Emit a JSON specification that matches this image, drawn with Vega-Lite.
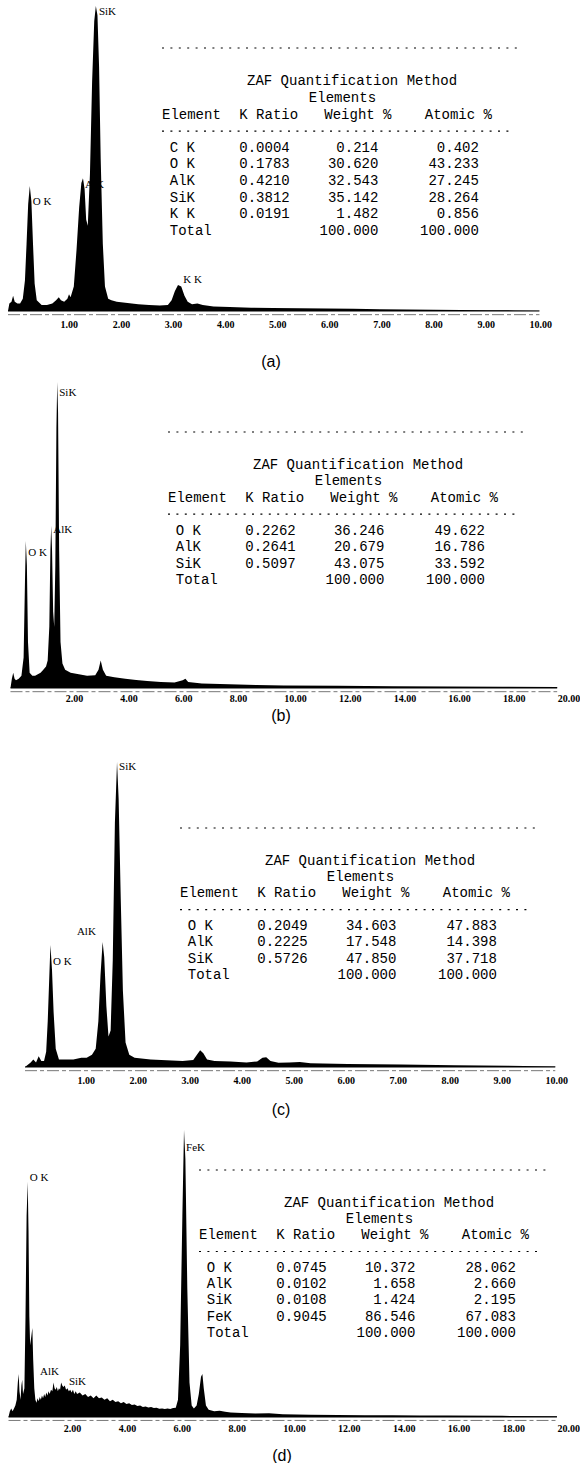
{
  "$schema": "https://vega.github.io/schema/vega-lite/v6.json",
  "padding": 0,
  "background": "white",
  "bounds": "flush",
  "spacing": 0,
  "config": {
    "view": {"stroke": null},
    "axis": {"labelColor": "black", "titleColor": "black", "grid": false, "domain": false, "ticks": false, "tickSize": 0,
      "labelFont": "Liberation Serif", "labelFontSize": 10, "labelFontWeight": "bold", "labelAlign": "left", "labelFlush": false, "labelOverlap": false,
      "titleFont": "Liberation Sans", "titleFontSize": 16, "titleFontWeight": "normal"}
  },
  "datasets": {
    "spec_a": [
      {"e":0,"c":0},{"e":0.026,"c":2.5},{"e":0.067,"c":3},{"e":0.098,"c":5},{"e":0.129,"c":3},{"e":0.181,"c":2.5},{"e":0.232,"c":2.5},{"e":0.284,"c":4},{"e":0.325,"c":10},{"e":0.356,"c":22},{"e":0.387,"c":35},{"e":0.418,"c":41},{"e":0.449,"c":36},{"e":0.48,"c":22},{"e":0.511,"c":9},{"e":0.552,"c":3.5},{"e":0.645,"c":2},{"e":0.748,"c":2},{"e":0.851,"c":2.5},{"e":0.923,"c":3.5},{"e":0.975,"c":4.5},{"e":1.016,"c":3.5},{"e":1.078,"c":3},{"e":1.14,"c":4},{"e":1.171,"c":5.5},{"e":1.201,"c":4.5},{"e":1.263,"c":8},{"e":1.315,"c":20},{"e":1.366,"c":34},{"e":1.408,"c":42},{"e":1.439,"c":43.5},{"e":1.47,"c":40},{"e":1.5,"c":30},{"e":1.531,"c":28},{"e":1.573,"c":45},{"e":1.614,"c":75},{"e":1.655,"c":95},{"e":1.686,"c":100},{"e":1.717,"c":97},{"e":1.748,"c":80},{"e":1.779,"c":50},{"e":1.82,"c":22},{"e":1.861,"c":8},{"e":1.923,"c":4},{"e":1.985,"c":3.5},{"e":2.088,"c":3},{"e":2.294,"c":2.6},{"e":2.5,"c":2.2},{"e":2.707,"c":2},{"e":2.913,"c":1.8},{"e":3.068,"c":2},{"e":3.14,"c":3.5},{"e":3.202,"c":6.5},{"e":3.263,"c":8.5},{"e":3.325,"c":8},{"e":3.387,"c":5},{"e":3.449,"c":3},{"e":3.532,"c":2.2},{"e":3.635,"c":2.5},{"e":3.738,"c":2},{"e":3.944,"c":1.5},{"e":4.253,"c":1.3},{"e":4.666,"c":1.1},{"e":5.078,"c":1},{"e":5.593,"c":0.9},{"e":6.109,"c":0.8},{"e":6.624,"c":0.7},{"e":7.14,"c":0.6},{"e":7.655,"c":0.5},{"e":8.171,"c":0.4},{"e":8.687,"c":0.3},{"e":9.202,"c":0.25},{"e":9.718,"c":0.2},{"e":10.2,"c":0.1}
    ],
    "spec_b": [
      {"e":0,"c":0},{"e":0.05,"c":3},{"e":0.1,"c":5},{"e":0.15,"c":3},{"e":0.2,"c":2.5},{"e":0.3,"c":3},{"e":0.4,"c":4},{"e":0.48,"c":10},{"e":0.53,"c":35},{"e":0.56,"c":48},{"e":0.6,"c":40},{"e":0.64,"c":15},{"e":0.7,"c":5},{"e":0.8,"c":4},{"e":0.9,"c":4},{"e":1.0,"c":4.5},{"e":1.1,"c":5},{"e":1.2,"c":6},{"e":1.3,"c":7},{"e":1.36,"c":9},{"e":1.42,"c":20},{"e":1.46,"c":45},{"e":1.49,"c":53},{"e":1.52,"c":45},{"e":1.56,"c":25},{"e":1.6,"c":20},{"e":1.64,"c":40},{"e":1.68,"c":85},{"e":1.71,"c":100},{"e":1.74,"c":90},{"e":1.78,"c":45},{"e":1.83,"c":15},{"e":1.9,"c":8},{"e":2.0,"c":6},{"e":2.2,"c":5},{"e":2.5,"c":4.5},{"e":2.8,"c":4},{"e":3.1,"c":4.2},{"e":3.22,"c":6},{"e":3.3,"c":9},{"e":3.38,"c":6},{"e":3.5,"c":4},{"e":3.8,"c":3.5},{"e":4.2,"c":3},{"e":4.6,"c":2.6},{"e":5.0,"c":2.3},{"e":5.5,"c":2},{"e":6.0,"c":1.8},{"e":6.3,"c":2.5},{"e":6.4,"c":3},{"e":6.5,"c":2},{"e":7,"c":1.5},{"e":8,"c":1.2},{"e":9,"c":1},{"e":10,"c":0.8},{"e":12,"c":0.7},{"e":14,"c":0.6},{"e":16,"c":0.5},{"e":18,"c":0.4},{"e":20,"c":0.3}
    ],
    "spec_c": [
      {"e":0,"c":0},{"e":0.109,"c":1.5},{"e":0.16,"c":2.5},{"e":0.212,"c":1.5},{"e":0.263,"c":3.5},{"e":0.314,"c":2},{"e":0.366,"c":2},{"e":0.407,"c":5},{"e":0.437,"c":15},{"e":0.468,"c":30},{"e":0.489,"c":40},{"e":0.519,"c":32},{"e":0.55,"c":18},{"e":0.591,"c":6},{"e":0.653,"c":2.5},{"e":0.776,"c":2.5},{"e":0.929,"c":2.5},{"e":1.083,"c":3},{"e":1.186,"c":3},{"e":1.288,"c":4},{"e":1.36,"c":6},{"e":1.411,"c":15},{"e":1.452,"c":30},{"e":1.493,"c":41},{"e":1.524,"c":36},{"e":1.565,"c":20},{"e":1.606,"c":10},{"e":1.647,"c":12},{"e":1.688,"c":35},{"e":1.729,"c":80},{"e":1.77,"c":100},{"e":1.801,"c":88},{"e":1.842,"c":55},{"e":1.883,"c":25},{"e":1.934,"c":8},{"e":2.006,"c":4},{"e":2.108,"c":3},{"e":2.416,"c":2.5},{"e":2.723,"c":2.2},{"e":3.031,"c":2},{"e":3.236,"c":2.3},{"e":3.307,"c":4},{"e":3.369,"c":5.5},{"e":3.43,"c":4.5},{"e":3.502,"c":2.5},{"e":3.646,"c":2},{"e":3.953,"c":1.8},{"e":4.261,"c":1.5},{"e":4.466,"c":1.8},{"e":4.568,"c":3},{"e":4.64,"c":3.2},{"e":4.722,"c":2},{"e":4.876,"c":1.4},{"e":5.081,"c":1.5},{"e":5.286,"c":1.6},{"e":5.491,"c":1.2},{"e":6.208,"c":1},{"e":7.233,"c":0.8},{"e":8.258,"c":0.6},{"e":9.283,"c":0.4},{"e":10.2,"c":0.2}
    ],
    "spec_d": [
      {"e":0,"c":0},{"e":0.05,"c":2},{"e":0.1,"c":3},{"e":0.15,"c":2},{"e":0.2,"c":3},{"e":0.25,"c":4},{"e":0.3,"c":6},{"e":0.34,"c":12},{"e":0.37,"c":15},{"e":0.4,"c":9},{"e":0.44,"c":6},{"e":0.47,"c":11},{"e":0.5,"c":13},{"e":0.53,"c":8},{"e":0.58,"c":10},{"e":0.62,"c":35},{"e":0.66,"c":70},{"e":0.7,"c":82},{"e":0.73,"c":65},{"e":0.76,"c":35},{"e":0.79,"c":25},{"e":0.83,"c":28},{"e":0.87,"c":31},{"e":0.9,"c":20},{"e":0.94,"c":10},{"e":0.98,"c":6},{"e":1.02,"c":5},{"e":1.06,"c":6.5},{"e":1.1,"c":5.5},{"e":1.14,"c":7},{"e":1.18,"c":6},{"e":1.22,"c":7.5},{"e":1.26,"c":6.5},{"e":1.3,"c":8},{"e":1.34,"c":7},{"e":1.38,"c":8.5},{"e":1.42,"c":7.5},{"e":1.46,"c":9},{"e":1.5,"c":8},{"e":1.55,"c":9.5},{"e":1.6,"c":9},{"e":1.64,"c":12},{"e":1.68,"c":10},{"e":1.72,"c":9.5},{"e":1.76,"c":10.5},{"e":1.8,"c":9},{"e":1.84,"c":10},{"e":1.88,"c":9.5},{"e":1.92,"c":12},{"e":1.96,"c":11},{"e":2.0,"c":10.5},{"e":2.05,"c":11},{"e":2.1,"c":9.5},{"e":2.15,"c":10},{"e":2.2,"c":9},{"e":2.25,"c":9.5},{"e":2.3,"c":8.5},{"e":2.35,"c":9.5},{"e":2.4,"c":8},{"e":2.45,"c":9},{"e":2.5,"c":8},{"e":2.6,"c":8.5},{"e":2.7,"c":7.5},{"e":2.8,"c":8},{"e":2.9,"c":7},{"e":3.0,"c":7.5},{"e":3.1,"c":6.5},{"e":3.2,"c":7.5},{"e":3.3,"c":6.5},{"e":3.4,"c":6.8},{"e":3.5,"c":6},{"e":3.6,"c":6.5},{"e":3.7,"c":5.5},{"e":3.8,"c":6},{"e":3.9,"c":5.2},{"e":4.0,"c":5.5},{"e":4.1,"c":4.8},{"e":4.2,"c":5.2},{"e":4.3,"c":4.5},{"e":4.4,"c":4.8},{"e":4.5,"c":4.2},{"e":4.6,"c":4.4},{"e":4.7,"c":3.8},{"e":4.8,"c":4},{"e":4.9,"c":3.5},{"e":5.0,"c":3.7},{"e":5.1,"c":3.3},{"e":5.2,"c":3.5},{"e":5.3,"c":3.1},{"e":5.4,"c":3.2},{"e":5.5,"c":2.9},{"e":5.6,"c":3},{"e":5.7,"c":2.8},{"e":5.8,"c":3},{"e":5.9,"c":2.8},{"e":6.0,"c":3.1},{"e":6.1,"c":3.2},{"e":6.18,"c":6},{"e":6.26,"c":25},{"e":6.34,"c":70},{"e":6.4,"c":100},{"e":6.45,"c":90},{"e":6.52,"c":45},{"e":6.6,"c":12},{"e":6.68,"c":4},{"e":6.76,"c":3},{"e":6.86,"c":4},{"e":6.94,"c":8},{"e":7.02,"c":14},{"e":7.07,"c":15},{"e":7.12,"c":10},{"e":7.2,"c":4},{"e":7.3,"c":2.5},{"e":7.5,"c":2},{"e":7.7,"c":2.2},{"e":7.9,"c":1.8},{"e":8.1,"c":1.6},{"e":8.5,"c":1.4},{"e":9,"c":1.2},{"e":9.5,"c":1.3},{"e":10,"c":1},{"e":11,"c":0.8},{"e":12,"c":0.7},{"e":13,"c":0.6},{"e":14,"c":0.6},{"e":15,"c":0.5},{"e":16,"c":0.5},{"e":18,"c":0.4},{"e":20,"c":0.3}
    ],
    "lab_a": [{"e":1.707,"c":98,"t":"SiK"},{"e":1.439,"c":41.3,"t":"AlK"},{"e":0.438,"c":35.8,"t":"O K"},{"e":3.325,"c":10.2,"t":"K K"}],
    "lab_b": [{"e":1.71,"c":96.4,"t":"SiK"},{"e":1.49,"c":51.6,"t":"AlK"},{"e":0.58,"c":44.1,"t":"O K"}],
    "lab_c": [{"e":1.77,"c":98.4,"t":"SiK"},{"e":0.96,"c":44.3,"t":"AlK"},{"e":0.5,"c":34.4,"t":"O K"}],
    "lab_d": [{"e":6.4,"c":93.8,"t":"FeK"},{"e":0.7,"c":83.3,"t":"O K"},{"e":1.08,"c":15.7,"t":"AlK"},{"e":2.13,"c":12.2,"t":"SiK"}],
    "tab_a": [
      {"element":"C K","kratio":"0.0004","weight":"0.214","atomic":"0.402"},
      {"element":"O K","kratio":"0.1783","weight":"30.620","atomic":"43.233"},
      {"element":"AlK","kratio":"0.4210","weight":"32.543","atomic":"27.245"},
      {"element":"SiK","kratio":"0.3812","weight":"35.142","atomic":"28.264"},
      {"element":"K K","kratio":"0.0191","weight":"1.482","atomic":"0.856"},
      {"element":"Total","kratio":"","weight":"100.000","atomic":"100.000"}
    ],
    "tab_b": [
      {"element":"O K","kratio":"0.2262","weight":"36.246","atomic":"49.622"},
      {"element":"AlK","kratio":"0.2641","weight":"20.679","atomic":"16.786"},
      {"element":"SiK","kratio":"0.5097","weight":"43.075","atomic":"33.592"},
      {"element":"Total","kratio":"","weight":"100.000","atomic":"100.000"}
    ],
    "tab_c": [
      {"element":"O K","kratio":"0.2049","weight":"34.603","atomic":"47.883"},
      {"element":"AlK","kratio":"0.2225","weight":"17.548","atomic":"14.398"},
      {"element":"SiK","kratio":"0.5726","weight":"47.850","atomic":"37.718"},
      {"element":"Total","kratio":"","weight":"100.000","atomic":"100.000"}
    ],
    "tab_d": [
      {"element":"O K","kratio":"0.0745","weight":"10.372","atomic":"28.062"},
      {"element":"AlK","kratio":"0.0102","weight":"1.658","atomic":"2.660"},
      {"element":"SiK","kratio":"0.0108","weight":"1.424","atomic":"2.195"},
      {"element":"FeK","kratio":"0.9045","weight":"86.546","atomic":"67.083"},
      {"element":"Total","kratio":"","weight":"100.000","atomic":"100.000"}
    ]
  },
  "vconcat": [
    {
      "width": 541, "height": 311,
      "layer": [
        {"layer": [
          {"data": {"name": "spec_a"}, "mark": {"type": "area", "color": "black", "interpolate": "linear"},
           "encoding": {
             "x": {"field": "e", "type": "quantitative", "scale": {"domain": [-0.1536, 10.23], "nice": false, "zero": false},
                   "axis": {"values": [1,2,3,4,5,6,7,8,9,10], "format": ".2f", "title": "(a)", "labelPadding": 8, "titlePadding": 24}},
             "y": {"field": "c", "type": "quantitative", "scale": {"domain": [0, 102], "nice": false}, "axis": null}}},
          {"data": {"values": [{}]}, "mark": {"type": "rule", "color": "black", "strokeWidth": 1},
           "encoding": {"x": {"datum": 0, "type": "quantitative"}, "x2": {"datum": 10.2}, "y": {"datum": 0, "type": "quantitative"}}},
          {"data": {"values": [{}]}, "mark": {"type": "rule", "color": "#555", "strokeWidth": 0.8, "strokeDash": [12, 3, 4, 3]},
           "encoding": {"x": {"datum": 0, "type": "quantitative"}, "x2": {"datum": 10.2}, "y": {"datum": -1.2, "type": "quantitative"}}},
          {"data": {"name": "lab_a"}, "mark": {"type": "text", "align": "left", "baseline": "middle", "dx": 2, "font": "Liberation Serif", "fontSize": 11, "color": "black"},
           "encoding": {"x": {"field": "e", "type": "quantitative"}, "y": {"field": "c", "type": "quantitative"}, "text": {"field": "t"}}}
        ]},
        {"layer": [
          {"data": {"values": [{}]}, "mark": {"type": "rule", "strokeDash": [2, 6.4], "strokeWidth": 1.2, "color": "black"},
           "encoding": {"x": {"datum": 0, "type": "quantitative", "scale": {"domain": [0, 46], "range": [162, 548.4]}, "axis": null}, "x2": {"datum": 46},
                        "y": {"datum": "rule1", "type": "ordinal", "scale": {"type": "point", "padding": 0, "domain": ["rule1","blank","title","subtitle","header","rule2","C K","O K","AlK","SiK","K K","Total"], "range": [48, 231]}, "axis": null}}},
          {"data": {"values": [{}]}, "mark": {"type": "rule", "strokeDash": [2, 6.4], "strokeWidth": 1.2, "color": "black"},
           "encoding": {"x": {"datum": 0, "type": "quantitative"}, "x2": {"datum": 45}, "y": {"datum": "rule2", "type": "ordinal"}}},
          {"data": {"values": [{}]}, "mark": {"type": "text", "text": "ZAF Quantification Method", "align": "left", "baseline": "middle", "font": "Liberation Mono", "fontSize": 14, "color": "black"},
           "encoding": {"x": {"datum": 11, "type": "quantitative"}, "y": {"datum": "title", "type": "ordinal"}}},
          {"data": {"values": [{}]}, "mark": {"type": "text", "text": "Elements", "align": "left", "baseline": "middle", "font": "Liberation Mono", "fontSize": 14, "color": "black"},
           "encoding": {"x": {"datum": 19, "type": "quantitative"}, "y": {"datum": "subtitle", "type": "ordinal"}}},
          {"data": {"values": [{}]}, "mark": {"type": "text", "text": "Element", "align": "left", "baseline": "middle", "font": "Liberation Mono", "fontSize": 14, "color": "black"},
           "encoding": {"x": {"datum": 0, "type": "quantitative"}, "y": {"datum": "header", "type": "ordinal"}}},
          {"data": {"values": [{}]}, "mark": {"type": "text", "text": "K Ratio", "align": "left", "baseline": "middle", "font": "Liberation Mono", "fontSize": 14, "color": "black"},
           "encoding": {"x": {"datum": 10, "type": "quantitative"}, "y": {"datum": "header", "type": "ordinal"}}},
          {"data": {"values": [{}]}, "mark": {"type": "text", "text": "Weight %", "align": "left", "baseline": "middle", "font": "Liberation Mono", "fontSize": 14, "color": "black"},
           "encoding": {"x": {"datum": 21, "type": "quantitative"}, "y": {"datum": "header", "type": "ordinal"}}},
          {"data": {"values": [{}]}, "mark": {"type": "text", "text": "Atomic %", "align": "left", "baseline": "middle", "font": "Liberation Mono", "fontSize": 14, "color": "black"},
           "encoding": {"x": {"datum": 34, "type": "quantitative"}, "y": {"datum": "header", "type": "ordinal"}}},
          {"data": {"name": "tab_a"}, "mark": {"type": "text", "align": "left", "baseline": "middle", "font": "Liberation Mono", "fontSize": 14, "color": "black"},
           "encoding": {"x": {"datum": 1, "type": "quantitative"}, "y": {"field": "element", "type": "ordinal"}, "text": {"field": "element"}}},
          {"data": {"name": "tab_a"}, "mark": {"type": "text", "align": "left", "baseline": "middle", "font": "Liberation Mono", "fontSize": 14, "color": "black"},
           "encoding": {"x": {"datum": 10, "type": "quantitative"}, "y": {"field": "element", "type": "ordinal"}, "text": {"field": "kratio"}}},
          {"data": {"name": "tab_a"}, "mark": {"type": "text", "align": "right", "baseline": "middle", "font": "Liberation Mono", "fontSize": 14, "color": "black"},
           "encoding": {"x": {"datum": 28, "type": "quantitative"}, "y": {"field": "element", "type": "ordinal"}, "text": {"field": "weight"}}},
          {"data": {"name": "tab_a"}, "mark": {"type": "text", "align": "right", "baseline": "middle", "font": "Liberation Mono", "fontSize": 14, "color": "black"},
           "encoding": {"x": {"datum": 41, "type": "quantitative"}, "y": {"field": "element", "type": "ordinal"}, "text": {"field": "atomic"}}}
        ]}
      ],
      "resolve": {"scale": {"x": "independent", "y": "independent"}}
    },
    {
      "width": 561, "height": 377,
      "layer": [
        {"layer": [
          {"data": {"name": "spec_b"}, "mark": {"type": "area", "color": "black", "interpolate": "linear"},
           "encoding": {
             "x": {"field": "e", "type": "quantitative", "scale": {"domain": [-0.384, 20.14], "nice": false, "zero": false},
                   "axis": {"values": [2,4,6,8,10,12,14,16,18,20], "format": ".2f", "title": "(b)", "labelPadding": 5, "titlePadding": 4}},
             "y": {"field": "c", "type": "quantitative", "scale": {"domain": [0, 123.2], "nice": false}, "axis": null}}},
          {"data": {"values": [{}]}, "mark": {"type": "rule", "color": "black", "strokeWidth": 1},
           "encoding": {"x": {"datum": 0, "type": "quantitative"}, "x2": {"datum": 20}, "y": {"datum": 0, "type": "quantitative"}}},
          {"data": {"values": [{}]}, "mark": {"type": "rule", "color": "#555", "strokeWidth": 0.8, "strokeDash": [12, 3, 4, 3]},
           "encoding": {"x": {"datum": 0, "type": "quantitative"}, "x2": {"datum": 20}, "y": {"datum": -1.2, "type": "quantitative"}}},
          {"data": {"name": "lab_b"}, "mark": {"type": "text", "align": "left", "baseline": "middle", "dx": 2, "font": "Liberation Serif", "fontSize": 11, "color": "black"},
           "encoding": {"x": {"field": "e", "type": "quantitative"}, "y": {"field": "c", "type": "quantitative"}, "text": {"field": "t"}}}
        ]},
        {"layer": [
          {"data": {"values": [{}]}, "mark": {"type": "rule", "strokeDash": [2, 6.4], "strokeWidth": 1.2, "color": "black"},
           "encoding": {"x": {"datum": 0, "type": "quantitative", "scale": {"domain": [0, 46], "range": [168, 554.4]}, "axis": null}, "x2": {"datum": 46},
                        "y": {"datum": "rule1", "type": "ordinal", "scale": {"type": "point", "padding": 0, "domain": ["rule1","blank","title","subtitle","header","rule2","O K","AlK","SiK","Total"], "range": [121, 269]}, "axis": null}}},
          {"data": {"values": [{}]}, "mark": {"type": "rule", "strokeDash": [2, 6.4], "strokeWidth": 1.2, "color": "black"},
           "encoding": {"x": {"datum": 0, "type": "quantitative"}, "x2": {"datum": 45}, "y": {"datum": "rule2", "type": "ordinal"}}},
          {"data": {"values": [{}]}, "mark": {"type": "text", "text": "ZAF Quantification Method", "align": "left", "baseline": "middle", "font": "Liberation Mono", "fontSize": 14, "color": "black"},
           "encoding": {"x": {"datum": 11, "type": "quantitative"}, "y": {"datum": "title", "type": "ordinal"}}},
          {"data": {"values": [{}]}, "mark": {"type": "text", "text": "Elements", "align": "left", "baseline": "middle", "font": "Liberation Mono", "fontSize": 14, "color": "black"},
           "encoding": {"x": {"datum": 19, "type": "quantitative"}, "y": {"datum": "subtitle", "type": "ordinal"}}},
          {"data": {"values": [{}]}, "mark": {"type": "text", "text": "Element", "align": "left", "baseline": "middle", "font": "Liberation Mono", "fontSize": 14, "color": "black"},
           "encoding": {"x": {"datum": 0, "type": "quantitative"}, "y": {"datum": "header", "type": "ordinal"}}},
          {"data": {"values": [{}]}, "mark": {"type": "text", "text": "K Ratio", "align": "left", "baseline": "middle", "font": "Liberation Mono", "fontSize": 14, "color": "black"},
           "encoding": {"x": {"datum": 10, "type": "quantitative"}, "y": {"datum": "header", "type": "ordinal"}}},
          {"data": {"values": [{}]}, "mark": {"type": "text", "text": "Weight %", "align": "left", "baseline": "middle", "font": "Liberation Mono", "fontSize": 14, "color": "black"},
           "encoding": {"x": {"datum": 21, "type": "quantitative"}, "y": {"datum": "header", "type": "ordinal"}}},
          {"data": {"values": [{}]}, "mark": {"type": "text", "text": "Atomic %", "align": "left", "baseline": "middle", "font": "Liberation Mono", "fontSize": 14, "color": "black"},
           "encoding": {"x": {"datum": 34, "type": "quantitative"}, "y": {"datum": "header", "type": "ordinal"}}},
          {"data": {"name": "tab_b"}, "mark": {"type": "text", "align": "left", "baseline": "middle", "font": "Liberation Mono", "fontSize": 14, "color": "black"},
           "encoding": {"x": {"datum": 1, "type": "quantitative"}, "y": {"field": "element", "type": "ordinal"}, "text": {"field": "element"}}},
          {"data": {"name": "tab_b"}, "mark": {"type": "text", "align": "left", "baseline": "middle", "font": "Liberation Mono", "fontSize": 14, "color": "black"},
           "encoding": {"x": {"datum": 10, "type": "quantitative"}, "y": {"field": "element", "type": "ordinal"}, "text": {"field": "kratio"}}},
          {"data": {"name": "tab_b"}, "mark": {"type": "text", "align": "right", "baseline": "middle", "font": "Liberation Mono", "fontSize": 14, "color": "black"},
           "encoding": {"x": {"datum": 28, "type": "quantitative"}, "y": {"field": "element", "type": "ordinal"}, "text": {"field": "weight"}}},
          {"data": {"name": "tab_b"}, "mark": {"type": "text", "align": "right", "baseline": "middle", "font": "Liberation Mono", "fontSize": 14, "color": "black"},
           "encoding": {"x": {"datum": 41, "type": "quantitative"}, "y": {"field": "element", "type": "ordinal"}, "text": {"field": "atomic"}}}
        ]}
      ],
      "resolve": {"scale": {"x": "independent", "y": "independent"}}
    },
    {
      "width": 561, "height": 379,
      "layer": [
        {"layer": [
          {"data": {"name": "spec_c"}, "mark": {"type": "area", "color": "black", "interpolate": "linear"},
           "encoding": {
             "x": {"field": "e", "type": "quantitative", "scale": {"domain": [-0.481, 10.31], "nice": false, "zero": false},
                   "axis": {"values": [1,2,3,4,5,6,7,8,9,10], "format": ".2f", "title": "(c)", "labelPadding": 8, "titlePadding": 16}},
             "y": {"field": "c", "type": "quantitative", "scale": {"domain": [0, 124.3], "nice": false}, "axis": null}}},
          {"data": {"values": [{}]}, "mark": {"type": "rule", "color": "black", "strokeWidth": 1},
           "encoding": {"x": {"datum": 0, "type": "quantitative"}, "x2": {"datum": 10.2}, "y": {"datum": 0, "type": "quantitative"}}},
          {"data": {"values": [{}]}, "mark": {"type": "rule", "color": "#555", "strokeWidth": 0.8, "strokeDash": [12, 3, 4, 3]},
           "encoding": {"x": {"datum": 0, "type": "quantitative"}, "x2": {"datum": 10.2}, "y": {"datum": -1.2, "type": "quantitative"}}},
          {"data": {"name": "lab_c"}, "mark": {"type": "text", "align": "left", "baseline": "middle", "dx": 2, "font": "Liberation Serif", "fontSize": 11, "color": "black"},
           "encoding": {"x": {"field": "e", "type": "quantitative"}, "y": {"field": "c", "type": "quantitative"}, "text": {"field": "t"}}}
        ]},
        {"layer": [
          {"data": {"values": [{}]}, "mark": {"type": "rule", "strokeDash": [2, 6.4], "strokeWidth": 1.2, "color": "black"},
           "encoding": {"x": {"datum": 0, "type": "quantitative", "scale": {"domain": [0, 46], "range": [180, 566.4]}, "axis": null}, "x2": {"datum": 46},
                        "y": {"datum": "rule1", "type": "ordinal", "scale": {"type": "point", "padding": 0, "domain": ["rule1","blank","title","subtitle","header","rule2","O K","AlK","SiK","Total"], "range": [140, 287]}, "axis": null}}},
          {"data": {"values": [{}]}, "mark": {"type": "rule", "strokeDash": [2, 6.4], "strokeWidth": 1.2, "color": "black"},
           "encoding": {"x": {"datum": 0, "type": "quantitative"}, "x2": {"datum": 45}, "y": {"datum": "rule2", "type": "ordinal"}}},
          {"data": {"values": [{}]}, "mark": {"type": "text", "text": "ZAF Quantification Method", "align": "left", "baseline": "middle", "font": "Liberation Mono", "fontSize": 14, "color": "black"},
           "encoding": {"x": {"datum": 11, "type": "quantitative"}, "y": {"datum": "title", "type": "ordinal"}}},
          {"data": {"values": [{}]}, "mark": {"type": "text", "text": "Elements", "align": "left", "baseline": "middle", "font": "Liberation Mono", "fontSize": 14, "color": "black"},
           "encoding": {"x": {"datum": 19, "type": "quantitative"}, "y": {"datum": "subtitle", "type": "ordinal"}}},
          {"data": {"values": [{}]}, "mark": {"type": "text", "text": "Element", "align": "left", "baseline": "middle", "font": "Liberation Mono", "fontSize": 14, "color": "black"},
           "encoding": {"x": {"datum": 0, "type": "quantitative"}, "y": {"datum": "header", "type": "ordinal"}}},
          {"data": {"values": [{}]}, "mark": {"type": "text", "text": "K Ratio", "align": "left", "baseline": "middle", "font": "Liberation Mono", "fontSize": 14, "color": "black"},
           "encoding": {"x": {"datum": 10, "type": "quantitative"}, "y": {"datum": "header", "type": "ordinal"}}},
          {"data": {"values": [{}]}, "mark": {"type": "text", "text": "Weight %", "align": "left", "baseline": "middle", "font": "Liberation Mono", "fontSize": 14, "color": "black"},
           "encoding": {"x": {"datum": 21, "type": "quantitative"}, "y": {"datum": "header", "type": "ordinal"}}},
          {"data": {"values": [{}]}, "mark": {"type": "text", "text": "Atomic %", "align": "left", "baseline": "middle", "font": "Liberation Mono", "fontSize": 14, "color": "black"},
           "encoding": {"x": {"datum": 34, "type": "quantitative"}, "y": {"datum": "header", "type": "ordinal"}}},
          {"data": {"name": "tab_c"}, "mark": {"type": "text", "align": "left", "baseline": "middle", "font": "Liberation Mono", "fontSize": 14, "color": "black"},
           "encoding": {"x": {"datum": 1, "type": "quantitative"}, "y": {"field": "element", "type": "ordinal"}, "text": {"field": "element"}}},
          {"data": {"name": "tab_c"}, "mark": {"type": "text", "align": "left", "baseline": "middle", "font": "Liberation Mono", "fontSize": 14, "color": "black"},
           "encoding": {"x": {"datum": 10, "type": "quantitative"}, "y": {"field": "element", "type": "ordinal"}, "text": {"field": "kratio"}}},
          {"data": {"name": "tab_c"}, "mark": {"type": "text", "align": "right", "baseline": "middle", "font": "Liberation Mono", "fontSize": 14, "color": "black"},
           "encoding": {"x": {"datum": 28, "type": "quantitative"}, "y": {"field": "element", "type": "ordinal"}, "text": {"field": "weight"}}},
          {"data": {"name": "tab_c"}, "mark": {"type": "text", "align": "right", "baseline": "middle", "font": "Liberation Mono", "fontSize": 14, "color": "black"},
           "encoding": {"x": {"datum": 41, "type": "quantitative"}, "y": {"field": "element", "type": "ordinal"}, "text": {"field": "atomic"}}}
        ]}
      ],
      "resolve": {"scale": {"x": "independent", "y": "independent"}}
    },
    {
      "width": 563, "height": 350,
      "layer": [
        {"layer": [
          {"data": {"name": "spec_d"}, "mark": {"type": "area", "color": "black", "interpolate": "linear"},
           "encoding": {
             "x": {"field": "e", "type": "quantitative", "scale": {"domain": [-0.31, 20.22], "nice": false, "zero": false},
                   "axis": {"values": [2,4,6,8,10,12,14,16,18,20], "format": ".2f", "title": "(d)", "labelPadding": 6, "titlePadding": 14}},
             "y": {"field": "c", "type": "quantitative", "scale": {"domain": [0, 122], "nice": false}, "axis": null}}},
          {"data": {"values": [{}]}, "mark": {"type": "rule", "color": "black", "strokeWidth": 1},
           "encoding": {"x": {"datum": 0, "type": "quantitative"}, "x2": {"datum": 20}, "y": {"datum": 0, "type": "quantitative"}}},
          {"data": {"values": [{}]}, "mark": {"type": "rule", "color": "#555", "strokeWidth": 0.8, "strokeDash": [12, 3, 4, 3]},
           "encoding": {"x": {"datum": 0, "type": "quantitative"}, "x2": {"datum": 20}, "y": {"datum": -1.2, "type": "quantitative"}}},
          {"data": {"name": "lab_d"}, "mark": {"type": "text", "align": "left", "baseline": "middle", "dx": 2, "font": "Liberation Serif", "fontSize": 11, "color": "black"},
           "encoding": {"x": {"field": "e", "type": "quantitative"}, "y": {"field": "c", "type": "quantitative"}, "text": {"field": "t"}}}
        ]},
        {"layer": [
          {"data": {"values": [{}]}, "mark": {"type": "rule", "strokeDash": [2, 6.4], "strokeWidth": 1.2, "color": "black"},
           "encoding": {"x": {"datum": 0, "type": "quantitative", "scale": {"domain": [0, 46], "range": [199, 585.4]}, "axis": null}, "x2": {"datum": 45},
                        "y": {"datum": "rule1", "type": "ordinal", "scale": {"type": "point", "padding": 0, "domain": ["rule1","blank","title","subtitle","header","rule2","O K","AlK","SiK","FeK","Total"], "range": [103, 266]}, "axis": null}}},
          {"data": {"values": [{}]}, "mark": {"type": "rule", "strokeDash": [2, 6.4], "strokeWidth": 1.2, "color": "black"},
           "encoding": {"x": {"datum": 0, "type": "quantitative"}, "x2": {"datum": 44}, "y": {"datum": "rule2", "type": "ordinal"}}},
          {"data": {"values": [{}]}, "mark": {"type": "text", "text": "ZAF Quantification Method", "align": "left", "baseline": "middle", "font": "Liberation Mono", "fontSize": 14, "color": "black"},
           "encoding": {"x": {"datum": 11, "type": "quantitative"}, "y": {"datum": "title", "type": "ordinal"}}},
          {"data": {"values": [{}]}, "mark": {"type": "text", "text": "Elements", "align": "left", "baseline": "middle", "font": "Liberation Mono", "fontSize": 14, "color": "black"},
           "encoding": {"x": {"datum": 19, "type": "quantitative"}, "y": {"datum": "subtitle", "type": "ordinal"}}},
          {"data": {"values": [{}]}, "mark": {"type": "text", "text": "Element", "align": "left", "baseline": "middle", "font": "Liberation Mono", "fontSize": 14, "color": "black"},
           "encoding": {"x": {"datum": 0, "type": "quantitative"}, "y": {"datum": "header", "type": "ordinal"}}},
          {"data": {"values": [{}]}, "mark": {"type": "text", "text": "K Ratio", "align": "left", "baseline": "middle", "font": "Liberation Mono", "fontSize": 14, "color": "black"},
           "encoding": {"x": {"datum": 10, "type": "quantitative"}, "y": {"datum": "header", "type": "ordinal"}}},
          {"data": {"values": [{}]}, "mark": {"type": "text", "text": "Weight %", "align": "left", "baseline": "middle", "font": "Liberation Mono", "fontSize": 14, "color": "black"},
           "encoding": {"x": {"datum": 21, "type": "quantitative"}, "y": {"datum": "header", "type": "ordinal"}}},
          {"data": {"values": [{}]}, "mark": {"type": "text", "text": "Atomic %", "align": "left", "baseline": "middle", "font": "Liberation Mono", "fontSize": 14, "color": "black"},
           "encoding": {"x": {"datum": 34, "type": "quantitative"}, "y": {"datum": "header", "type": "ordinal"}}},
          {"data": {"name": "tab_d"}, "mark": {"type": "text", "align": "left", "baseline": "middle", "font": "Liberation Mono", "fontSize": 14, "color": "black"},
           "encoding": {"x": {"datum": 1, "type": "quantitative"}, "y": {"field": "element", "type": "ordinal"}, "text": {"field": "element"}}},
          {"data": {"name": "tab_d"}, "mark": {"type": "text", "align": "left", "baseline": "middle", "font": "Liberation Mono", "fontSize": 14, "color": "black"},
           "encoding": {"x": {"datum": 10, "type": "quantitative"}, "y": {"field": "element", "type": "ordinal"}, "text": {"field": "kratio"}}},
          {"data": {"name": "tab_d"}, "mark": {"type": "text", "align": "right", "baseline": "middle", "font": "Liberation Mono", "fontSize": 14, "color": "black"},
           "encoding": {"x": {"datum": 28, "type": "quantitative"}, "y": {"field": "element", "type": "ordinal"}, "text": {"field": "weight"}}},
          {"data": {"name": "tab_d"}, "mark": {"type": "text", "align": "right", "baseline": "middle", "font": "Liberation Mono", "fontSize": 14, "color": "black"},
           "encoding": {"x": {"datum": 41, "type": "quantitative"}, "y": {"field": "element", "type": "ordinal"}, "text": {"field": "atomic"}}}
        ]}
      ],
      "resolve": {"scale": {"x": "independent", "y": "independent"}}
    }
  ]
}
